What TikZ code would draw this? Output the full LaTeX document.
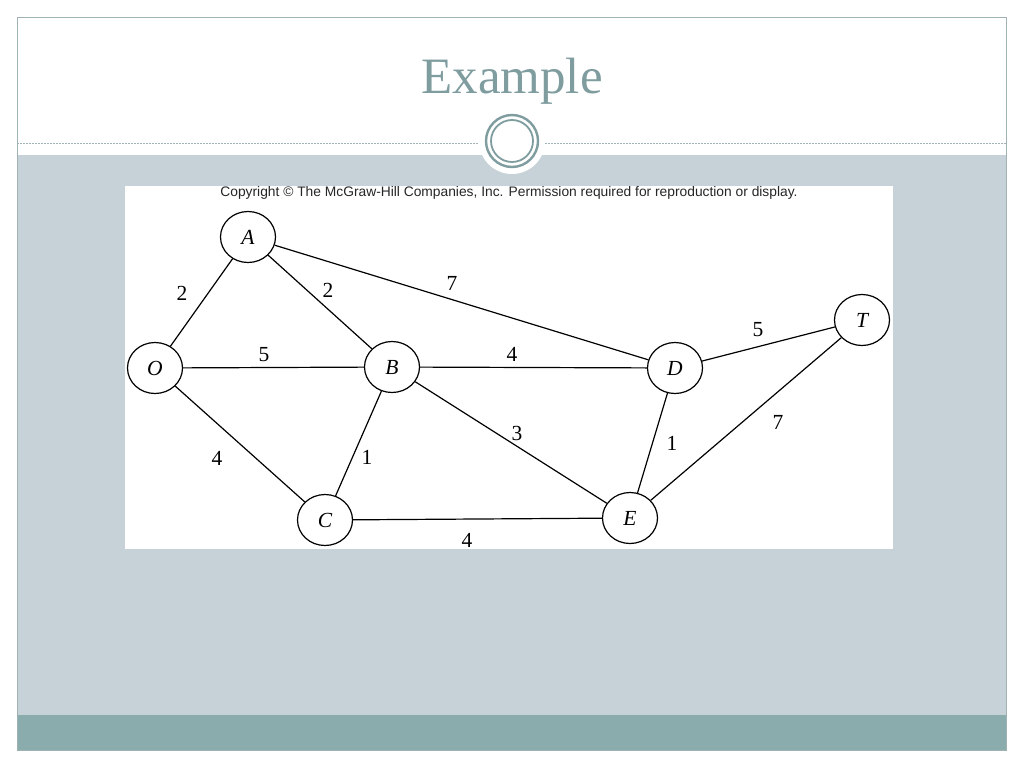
\documentclass[tikz,border=0pt]{standalone}
\usepackage{fontspec}
\setmainfont{Liberation Serif}
\newfontfamily\arialfont{Liberation Sans}
\usetikzlibrary{shapes.geometric}
\definecolor{slideteal}{HTML}{7F9C9F}
\definecolor{slidepanel}{HTML}{C6D2D8}
\definecolor{slideband}{HTML}{8AACAC}
\definecolor{slideline}{HTML}{9FB3B4}
\tikzset{
  vertex/.style={draw, ellipse, minimum width=55pt, minimum height=51pt, inner sep=0pt,
    line width=1.2pt, font=\fontsize{21.5}{21.5}\selectfont\itshape},
  wt/.style={inner sep=0pt, font=\fontsize{21.5}{21.5}\selectfont},
  edge/.style={line width=1.2pt}
}
\begin{document}
\begin{tikzpicture}[x=1pt, y=-1pt]
\useasboundingbox (0,0) rectangle (1024,768);
\fill[white] (0,0) rectangle (1024,768);
\fill[slidepanel] (17,155) rectangle (1006,715);
\fill[slideband] (17,715) rectangle (1006,750);
\draw[slideline, line width=0.8pt] (17,17) rectangle (1006,750);
\draw[slideline, line width=0.7pt, dash pattern=on 2pt off 1pt] (17,143) -- (1006,143);
\fill[white] (512,141) circle (33);
\draw[slideteal, line width=2.4pt] (512,141) circle (26);
\draw[slideteal, line width=1.8pt] (512,141) circle (21);
\node[text=slideteal, font=\fontsize{51}{51}\selectfont] (title) at (512,81) {Example};

\fill[white] (125,186) rectangle (893,549);
\node[font=\arialfont\fontsize{13.8}{13.8}\selectfont, text=black!85] (copy) at (509,193)
  {Copyright \textcopyright{} The McGraw-Hill Companies, Inc. Permission required for reproduction or display.};

\node[vertex] (A) at (248,237) {A};
\node[vertex] (O) at (155,368) {O};
\node[vertex] (B) at (392,367) {B};
\node[vertex] (C) at (325,520) {C};
\node[vertex] (D) at (675,368) {D};
\node[vertex] (E) at (630,518) {E};
\node[vertex] (T) at (862,320) {T};

\draw[edge] (O) -- (A);
\draw[edge] (A) -- (B);
\draw[edge] (A) -- (D);
\draw[edge] (O) -- (B);
\draw[edge] (B) -- (D);
\draw[edge] (O) -- (C);
\draw[edge] (B) -- (C);
\draw[edge] (B) -- (E);
\draw[edge] (D) -- (E);
\draw[edge] (C) -- (E);
\draw[edge] (D) -- (T);
\draw[edge] (E) -- (T);

\node[wt] (wOA) at (182,293) {2};
\node[wt] (wAB) at (328,290) {2};
\node[wt] (wAD) at (452,283) {7};
\node[wt] (wOB) at (264,355) {5};
\node[wt] (wBD) at (512,354) {4};
\node[wt] (wOC) at (217,458) {4};
\node[wt] (wBC) at (367,457) {1};
\node[wt] (wBE) at (517,433) {3};
\node[wt] (wDE) at (672,443) {1};
\node[wt] (wCE) at (467,540) {4};
\node[wt] (wDT) at (758,330) {5};
\node[wt] (wET) at (778,422) {7};
\end{tikzpicture}
\end{document}
